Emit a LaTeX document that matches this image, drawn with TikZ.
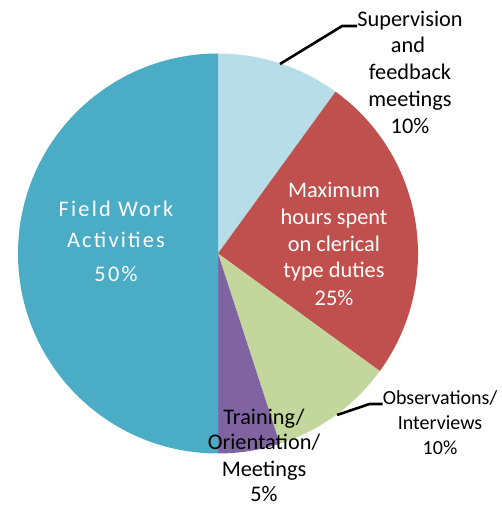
\documentclass[tikz,border=0pt]{standalone}
\usepackage{fontspec}
\setmainfont{Carlito}
\newfontfamily\widefont[LetterSpace=10]{Carlito}
\usetikzlibrary{calc}
\definecolor{cTeal}{HTML}{4BACC6}
\definecolor{cLight}{HTML}{B7DEE8}
\definecolor{cRed}{HTML}{C0504D}
\definecolor{cGreen}{HTML}{C3D69B}
\definecolor{cPurple}{HTML}{8064A2}
\begin{document}
\begin{tikzpicture}[x=1pt,y=1pt,
  lbl/.style={anchor=base,inner sep=0pt,font=\fontsize{22.3}{27}\selectfont},
  lblw/.style={lbl,text=white},
  lbls/.style={anchor=base,inner sep=0pt,font=\fontsize{20}{24}\selectfont},
  lblf/.style={anchor=base,inner sep=0pt,text=white,font=\widefont\fontsize{22.3}{27}\selectfont},
  leader/.style={draw=black,line width=2.6pt}]
\useasboundingbox (0,0) rectangle (502,508);
\coordinate (c) at (218,254.5);
% slices
\fill[cLight] (c) -- ++(90:200) arc[start angle=90,end angle=54,radius=200] -- cycle;
\fill[cRed] (c) -- ++(54:200) arc[start angle=54,end angle=-36,radius=200] -- cycle;
\fill[cGreen] (c) -- ++(-36:200) arc[start angle=-36,end angle=-72,radius=200] -- cycle;
\fill[cPurple] (c) -- ++(-72:200) arc[start angle=-72,end angle=-90,radius=200] -- cycle;
\fill[cTeal] (c) -- ++(-90:200) arc[start angle=-90,end angle=-270,radius=200] -- cycle;
% supervision label
\node[lbl] (sup1) at (410,481) {Supervision};
\node[lbl] (sup2) at (408,455) {and};
\node[lbl] (sup3) at (410,428) {feedback};
\node[lbl] (sup4) at (410,401) {meetings};
\node[lbl] (sup5) at (410,374) {10\%};
% maximum label
\node[lblw] (max1) at (334,310) {Maximum};
\node[lblw] (max2) at (334,283) {hours spent};
\node[lblw] (max3) at (334,256) {on clerical};
\node[lblw] (max4) at (334,230) {type duties};
\node[lblw] (max5) at (334,202) {25\%};
% field work label
\node[lblf] (fw1) at (116,291) {Field Work};
\node[lblf] (fw2) at (116,260) {Activities};
\node[lblf] (fw3) at (116,226) {50\%};
% observations label
\node[lbls] (obs1) at (440,103) {Observations/};
\node[lbls] (obs2) at (440,78) {Interviews};
\node[lbls] (obs3) at (440,53) {10\%};
% training label
\node[lbl] (tr1) at (264,83) {Training/};
\node[lbl] (tr2) at (264,58) {Orientation/};
\node[lbl] (tr3) at (264,31) {Meetings};
\node[lbl] (tr4) at (264,6) {5\%};
% leader lines
\coordinate (supTip) at (280,444);
\coordinate (obsTip) at (337,93);
\draw[leader] (supTip) -- ($(sup1.base west)+(-15,1)$) -- ($(sup1.base west)+(0,1)$);
\draw[leader] (obsTip) -- ($(obs1.base west)+(-13,1)$) -- ($(obs1.base west)+(0,1)$);
\end{tikzpicture}
\end{document}
